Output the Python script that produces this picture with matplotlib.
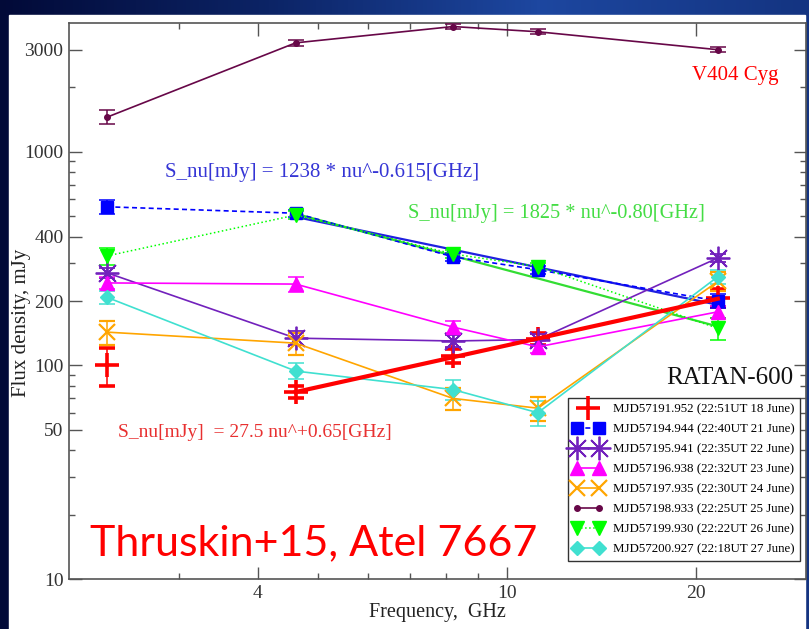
import numpy as np
import matplotlib.pyplot as plt
from matplotlib.colors import LinearSegmentedColormap
from matplotlib.patches import Rectangle
from matplotlib.ticker import FixedLocator, FixedFormatter, NullFormatter
from matplotlib.legend_handler import HandlerLine2D

plt.rcParams['font.family'] = ['Liberation Serif', 'DejaVu Serif']

# RATAN-600 frequencies, GHz
freq = [2.3, 4.6, 8.2, 11.2, 21.7]

# flux density (mJy) and errors per date
flux_18 = [100, 75, 111, 133, 207]
err_18 = [20, 5, 8, 8, 20]
flux_21 = [552, 515, 322, 280, 200]
err_21 = [40, 20, 15, 12, 15]
flux_22 = [271, 134, 130, 132, 318]
err_22 = [15, 10, 8, 8, 15]
flux_23 = [243, 240, 151, 122, 178]
err_23 = [15, 20, 10, 8, 12]
flux_24 = [143, 127, 70, 63, 247]
err_24 = [18, 15, 8, 8, 25]
flux_25 = [1450, 3230, 3850, 3640, 3000]
err_25 = [110, 100, 100, 100, 80]
flux_26 = [325, 505, 332, 290, 149]
err_26 = [30, 20, 15, 12, 18]
flux_27 = [208, 94, 77, 60, 260]
err_27 = [15, 8, 8, 8, 20]

labels = ['MJD57191.952 (22:51UT 18 June)',
          'MJD57194.944 (22:40UT 21 June)',
          'MJD57195.941 (22:35UT 22 June)',
          'MJD57196.938 (22:32UT 23 June)',
          'MJD57197.935 (22:30UT 24 June)',
          'MJD57198.933 (22:25UT 25 June)',
          'MJD57199.930 (22:22UT 26 June)',
          'MJD57200.927 (22:18UT 27 June)']

# power-law fit lines, end points
fit_x = [4.6, 21.7]
fit_red = [75, 205]
fit_blue = [495, 192]
fit_green = [512, 152]

xmajor = [4, 10, 20]
xminor = [3, 5, 6, 7, 8, 9]
ymajor = [10, 50, 100, 200, 400, 1000, 3000]
yminor = [20, 30, 40, 60, 70, 80, 90, 300, 500, 600, 700, 800, 900, 2000]

W, H = 809, 629
fig = plt.figure(figsize=(W / 100, H / 100), dpi=100)

# slide background
bg = fig.add_axes([0, 0, 1, 1])
cmap = LinearSegmentedColormap.from_list('slide', ['#020a38', '#0c2466', '#1d47a0', '#143481'])
bg.imshow(np.linspace(0, 1, 256)[None, :], extent=[0, 1, 0, 1], aspect='auto', cmap=cmap)
bg.add_patch(Rectangle((9 / W, 0), (805 - 9) / W, 1 - 15 / H, color='white', zorder=2))
bg.set_xlim(0, 1)
bg.set_ylim(0, 1)
bg.axis('off')

x0, x1, y0, y1 = 69, 806, 23, 579
ax = fig.add_axes([x0 / W, 1 - y1 / H, (x1 - x0) / W, (y1 - y0) / H])
ax.set_facecolor('white')

series = [
    (flux_18, err_18, dict(color='red', marker='+', ms=17, mew=2.6, ls='none')),
    (flux_21, err_21, dict(color='#0000ff', marker='s', ms=9, ls='--', lw=1.2, dashes=(3, 2))),
    (flux_22, err_22, dict(color='#7221bc', marker=(8, 2, 0), ms=17, mew=1.3, ls='-', lw=1.2)),
    (flux_23, err_23, dict(color='#ff00ff', marker='^', ms=10, ls='-', lw=1.2)),
    (flux_24, err_24, dict(color='#ffa500', marker='x', ms=11, mew=1.6, ls='-', lw=1.2)),
    (flux_25, err_25, dict(color='#670748', marker='o', ms=4, ls='-', lw=1.2)),
    (flux_26, err_26, dict(color='#00ff00', marker='v', ms=10, ls=':', lw=1.1)),
    (flux_27, err_27, dict(color='#40e0d0', marker='D', ms=7, ls='-', lw=1.2)),
]

handles = []
for y, e, kw in series:
    eb = ax.errorbar(freq, y, yerr=e, capsize=6, elinewidth=1.1, capthick=1.1,
                     ecolor=kw['color'], zorder=3, **kw)
    handles.append(eb[0])

ax.plot(fit_x, fit_red, color='red', lw=3, zorder=4)
ax.plot(fit_x, fit_blue, color='#2020e0', lw=1.6, zorder=2)
ax.plot(fit_x, fit_green, color='#33dd33', lw=1.6, zorder=2)

ax.set_xscale('log')
ax.set_yscale('log')
ax.set_xlim(2, 30)
ax.set_ylim(10, 4000)

ax.xaxis.set_major_locator(FixedLocator(xmajor))
ax.xaxis.set_major_formatter(FixedFormatter([str(v) for v in xmajor]))
ax.xaxis.set_minor_locator(FixedLocator(xminor))
ax.xaxis.set_minor_formatter(NullFormatter())
ax.yaxis.set_major_locator(FixedLocator(ymajor))
ax.yaxis.set_major_formatter(FixedFormatter([str(v) for v in ymajor]))
ax.yaxis.set_minor_locator(FixedLocator(yminor))
ax.yaxis.set_minor_formatter(NullFormatter())

ax.tick_params(which='both', direction='in', top=True, right=True, color='#555555', width=1)
ax.tick_params(which='major', length=9, labelsize=14, labelcolor='#333333', pad=4)
ax.tick_params(which='minor', length=4.5)
for s in ax.spines.values():
    s.set_color('#555555')
    s.set_linewidth(1.2)

ax.set_xlabel('Frequency,  GHz', fontsize=14.5, color='#222222')
ax.set_ylabel('Flux density, mJy', fontsize=15, color='#222222')
ax.xaxis.set_label_coords(0.5, -0.043)
ax.yaxis.set_label_coords(-0.052, 0.46)

ax.text(0.904, 0.906, 'V404 Cyg', transform=ax.transAxes, color='red', fontsize=15,
        ha='center', va='center')
ax.text(0.130, 0.732, 'S_nu[mJy] = 1238 * nu^-0.615[GHz]', transform=ax.transAxes,
        color='#3535d5', fontsize=15, va='center')
ax.text(0.46, 0.658, 'S_nu[mJy] = 1825 * nu^-0.80[GHz]', transform=ax.transAxes,
        color='#44dd44', fontsize=14.7, va='center')
ax.text(0.0665, 0.264, 'S_nu[mJy]  = 27.5 nu^+0.65[GHz]', transform=ax.transAxes,
        color='#e83030', fontsize=14, va='center')
ax.text(0.81, 0.3615, 'RATAN-600', transform=ax.transAxes, color='#111111', fontsize=18,
        va='center')
ax.text(0.0285, 0.065, 'Thruskin+15, Atel 7667', transform=ax.transAxes, color='red',
        fontsize=31, va='center', family=['Lato', 'DejaVu Sans'])

leg = ax.legend(handles, labels, loc='upper right', bbox_to_anchor=(0.992, 0.3255),
                borderaxespad=0, fontsize=9.3, numpoints=2, handlelength=2.3,
                labelspacing=0.62, fancybox=False, framealpha=1, edgecolor='#333333',
                handler_map={handles[0]: HandlerLine2D(numpoints=1)})
leg.get_frame().set_linewidth(1.0)
leg.set_zorder(5)

fig.savefig('out.png', dpi=100, facecolor=fig.get_facecolor())
